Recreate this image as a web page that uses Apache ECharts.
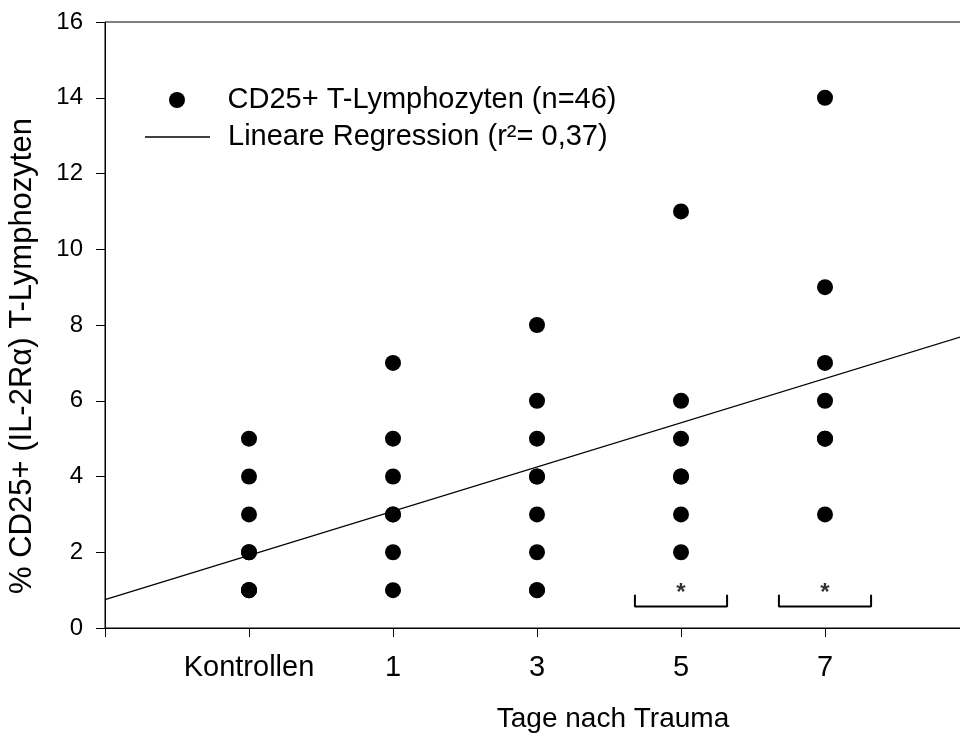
<!DOCTYPE html>
<html lang="de">
<head>
    <meta charset="UTF-8">
    <title>CD25+ T-Lymphozyten</title>
    <script src="https://cdn.jsdelivr.net/npm/echarts@6/dist/echarts.min.js"></script>
</head>
<body style="margin:0;background:#fff;">
    <div id="main" style="width: 960px;height:736px;"></div>
    <script type="text/javascript">
        // Gruppen auf der x-Achse (Position 1..5)
        var categories = ['Kontrollen', '1', '3', '5', '7'];
        // Messwerte je Gruppe (% CD25+ T-Lymphozyten), Doppelte liegen uebereinander
        var kontrollen = [1, 1, 1, 2, 2, 3, 4, 5];
        var tag1 = [1, 2, 3, 3, 4, 5, 7];
        var tag3 = [1, 1, 2, 3, 4, 4, 5, 6, 8];
        var tag5 = [2, 3, 4, 4, 5, 6, 11];
        var tag7 = [3, 5, 5, 6, 7, 9, 14];
        var groups = [kontrollen, tag1, tag3, tag5, tag7];
        // Regressionsgerade, Endpunkte bei x = 0 und x = 6
        var regressionLine = [[0, 0.75], [6, 7.75]];
        // Signifikanzklammern (Gruppenposition) mit Stern
        var bracketGroups = [4, 5];
        var yTicks = [0, 2, 4, 6, 8, 10, 12, 14, 16];

        var font = 'Liberation Sans, Arial, sans-serif';
        var nameScatter = 'CD25+ T-Lymphozyten (n=46)';
        var nameLine = 'Lineare Regression (r\u00b2= 0,37)';

        var points = [];
        groups.forEach(function (vals, i) {
            vals.forEach(function (v) { points.push([i + 1, v]); });
        });

        var series = [{
            name: nameScatter,
            type: 'scatter',
            data: points,
            symbol: 'circle',
            symbolSize: 16,
            itemStyle: {color: '#000', opacity: 1},
            z: 3
        }, {
            name: nameLine,
            type: 'line',
            data: regressionLine,
            symbol: 'none',
            itemStyle: {color: '#000'},
            lineStyle: {color: '#000', width: 1.2},
            z: 2
        }];

        // Klammern unter den Gruppen 5 und 7
        bracketGroups.forEach(function (g) {
            series.push({
                type: 'line',
                data: [[g - 0.32, 0.88], [g - 0.32, 0.57], [g + 0.32, 0.57], [g + 0.32, 0.88]],
                symbol: 'none',
                lineStyle: {color: '#000', width: 2},
                silent: true
            });
        });
        series.push({
            type: 'scatter',
            data: bracketGroups.map(function (g) { return [g, 0.92]; }),
            symbolSize: 0,
            label: {show: true, position: 'inside', formatter: '*', color: '#000',
                    fontSize: 24, fontWeight: 'bold', fontFamily: font},
            silent: true
        });

        var legendText = {
            fontSize: 29, lineHeight: 30, fontFamily: font, color: '#000', padding: [0, 0, 0, 13]
        };

        var myChart = echarts.init(document.getElementById('main'));
        var option = {
            backgroundColor: '#fff',
            animation: false,
            textStyle: {fontFamily: font, color: '#000'},
            grid: {
                left: 105, right: -9, top: 22, bottom: 108,
                outerBoundsMode: 'none',
                show: true, borderColor: '#000', borderWidth: 1
            },
            legend: [{
                orient: 'vertical',
                left: 164,
                top: 80,
                itemWidth: 65,
                itemHeight: 16,
                data: [{name: nameScatter, icon: 'circle'}],
                textStyle: legendText
            }, {
                orient: 'vertical',
                left: 140,
                top: 117,
                itemWidth: 65,
                itemHeight: 1.4,
                data: [{name: nameLine, icon: 'rect'}],
                textStyle: legendText
            }],
            xAxis: {
                type: 'value',
                min: 0,
                max: 6,
                interval: 1,
                name: 'Tage nach Trauma',
                nameLocation: 'middle',
                nameGap: 77,
                nameTextStyle: {fontSize: 28, fontFamily: font, color: '#000', padding: [0, 0, 0, 152]},
                axisLine: {lineStyle: {color: '#000', width: 1}},
                axisTick: {show: true, inside: false, length: 9, lineStyle: {color: '#000'}},
                axisLabel: {
                    fontSize: 29, color: '#000', margin: 25, fontFamily: font,
                    formatter: function (v) { return categories[v - 1] || ''; }
                },
                splitLine: {show: false}
            },
            yAxis: {
                type: 'value',
                min: 0,
                max: 16,
                interval: 2,
                name: '% CD25+ (IL-2R\u03b1) T-Lymphozyten',
                nameLocation: 'middle',
                nameRotate: 90,
                nameGap: 67,
                nameTextStyle: {fontSize: 31, fontFamily: font, color: '#000', padding: [0, 62, 0, 0]},
                axisLine: {show: true, lineStyle: {color: '#000', width: 1}},
                axisTick: {show: true, inside: false, length: 9, lineStyle: {color: '#000'}},
                axisLabel: {fontSize: 24, color: '#000', margin: 22, fontFamily: font,
                            formatter: function (v) { return yTicks.indexOf(v) >= 0 ? String(v) : ''; }},
                splitLine: {show: false}
            },
            series: series
        };
        myChart.setOption(option);
    </script>
</body>
</html>
